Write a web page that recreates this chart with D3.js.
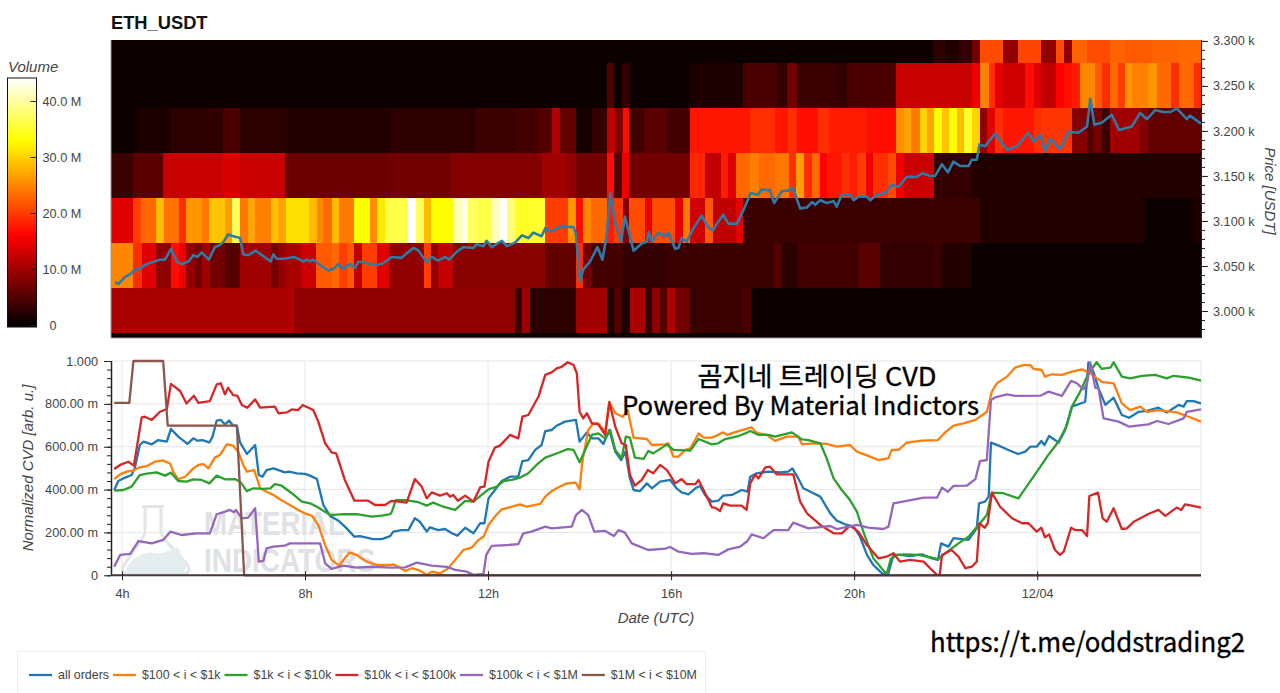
<!DOCTYPE html>
<html>
<head>
<meta charset="utf-8">
<script src="https://d3js.org/d3.v7.min.js"></script>
<style>
html, body { margin: 0; padding: 0; background: #fff; overflow: hidden; }
svg { display: block; font-family: "Liberation Sans", sans-serif; }
.axis text { fill: #444; font-size: 12.7px; }
.axis path, .axis line { stroke: #222; }
.axisLabel { fill: #444; font-size: 15px; font-style: italic; }
.grid line { stroke: #e6e6e6; stroke-width: 1px; }
.overlay { font-family: "Noto Sans CJK KR", sans-serif; fill: #000; stroke: #000; stroke-width: 0.35px; text-anchor: middle; }
</style>
</head>
<body>
<svg id="chart" width="1280" height="693"></svg>
<script>
// heatmap bands, each run is [end hour, volume in M]. hours past 24 are 12/04
var heatStart = 3.76;
var band3300 = [[21.07,.2],[21.73,.8],[22,2.5],[22.3,2],[22.57,3],[22.75,7],[23.25,21],[23.58,9],[24.09,20.5],[24.42,9],[24.58,21],[24.76,9],[25.09,22.5],[25.6,21],[25.92,22.5],[26.5,22],[27.05,22.5],[27.58,23]];
var band3250 = [[14.59,.2],[14.76,5],[14.92,.5],[15.1,3],[16.42,.2],[17.58,1.5],[18.31,4.5],[18.53,2.8],[18.75,7],[19.62,3.5],[19.84,2.8],[20.92,4.5],[22.57,12.5],[22.75,15],[22.94,24.5],[23.08,19],[23.25,14],[23.74,13],[23.92,17],[24.09,14],[24.42,12],[24.58,16],[24.76,17],[24.93,18],[25.27,25],[25.41,22],[25.6,19],[25.76,23],[25.92,20],[26.07,26],[26.42,24.5],[26.62,26],[26.93,23],[27.09,19],[27.42,23],[27.58,19]];
var band3200 = [[4.36,.5],[5.05,1.5],[5.92,2.5],[6.2,3],[6.58,4.5],[7.6,2.5],[9.86,2],[11.72,2.5],[12.59,3.5],[13.1,4],[13.39,5],[13.57,11],[13.92,6],[14.27,1],[14.59,3],[14.78,12],[14.94,8],[15.08,17],[15.4,4],[15.92,5.5],[16.42,4],[17.73,17.5],[18.27,19],[18.56,17.5],[18.75,19],[19.22,17],[19.44,19],[20.28,18],[20.92,17],[21.08,25.5],[21.24,27],[21.43,24],[21.59,30],[21.75,27],[21.92,33],[22.08,29],[22.24,33],[22.41,28.5],[22.57,35],[22.74,30],[22.91,9],[23.08,14],[23.25,19],[23.92,17.5],[24.09,19],[24.76,19.5],[25.09,8],[25.23,5],[25.41,7],[25.6,3.5],[26.25,10],[26.42,8],[27.58,6]];
var band3150 = [[4.25,3.5],[4.9,5.5],[6.2,12.5],[6.58,13.5],[7.56,12.5],[9.86,6.5],[11.2,7],[13.17,8],[13.72,10],[13.92,9],[14.59,7],[14.76,17],[14.92,5],[15.08,15],[16.42,7],[16.74,18.5],[17.09,12],[17.25,18],[17.41,14],[17.73,23],[17.91,24.5],[18.27,23],[18.58,24],[18.73,19],[18.91,26.5],[19.09,19],[19.26,23],[19.4,16],[19.73,17.5],[19.91,19],[20.06,18],[20.26,20],[20.42,15],[20.75,19],[20.92,21],[21.08,15],[21.75,12.5],[22.57,3],[27.58,2]];
var band3100 = [[4.25,14],[4.41,20],[4.74,23],[4.92,28.5],[5.25,23.5],[5.4,19],[5.74,26],[5.91,24],[6.25,29],[6.41,26.5],[6.58,37],[6.75,24],[6.91,27],[7.25,24.5],[7.42,28.5],[7.58,27],[8.09,31],[8.26,28.5],[8.4,25],[8.58,23],[8.75,28.5],[9.08,24],[9.42,33],[9.58,25.5],[9.75,31.5],[10.26,36],[10.42,44],[10.59,37],[10.75,28.5],[11.26,33],[11.42,41],[11.57,43],[11.75,37],[12.08,36],[12.23,41],[12.41,44],[12.59,38],[12.92,34.5],[13.25,35],[13.74,20],[13.92,26],[14.08,17],[14.25,25],[14.59,23],[14.76,18],[14.94,20],[15.08,8],[15.42,21],[15.58,15],[16.09,21],[16.25,14.5],[16.42,24],[16.74,13],[16.91,22],[17.42,12],[17.58,14.5],[22.75,3.5],[23.23,1.8],[26.36,2],[27.42,.8],[27.58,1.5]];
var band3050 = [[4.25,25],[4.43,19],[4.74,14],[5.07,9],[5.25,17],[5.4,15],[5.6,9],[5.74,7],[5.92,10],[6.25,7],[6.58,5],[7.25,10],[7.42,7],[7.58,9],[7.91,10.5],[8.09,13],[8.24,12.5],[8.58,22],[8.75,23],[8.91,20],[9.08,22],[9.25,12],[9.58,20],[9.86,14],[10.59,9],[10.75,20],[10.91,9],[11.24,12],[13.25,8.5],[13.92,6],[14.08,19],[14.25,7],[14.94,4],[15.87,3],[18.24,3.5],[18.42,5],[18.75,2.5],[20.1,4],[20.57,5.5],[21.75,3],[21.92,3.5],[22.57,1.8],[27.58,.3]];
var band3000 = [[7.6,10.5],[7.75,11],[12.59,9],[12.75,3.5],[12.92,10],[13.92,2.5],[14.59,10],[14.76,1.5],[14.92,5],[15.1,1.5],[15.42,10.5],[15.58,3],[15.76,9],[15.92,5],[16.09,11],[16.42,7],[17.58,3.5],[17.74,4.5],[27.58,.3]];
var band2950 = [[27.58,.3]];
var bandPrices = [3300, 3250, 3200, 3150, 3100, 3050, 3000, 2950];
var bandRuns = [band3300, band3250, band3200, band3150, band3100, band3050, band3000, band2950];

// price line, [hour, USDT]
var priceLine = [[3.85,3032],[3.92,3030],[4.07,3038],[4.18,3041],[4.28,3046],[4.39,3047],[4.5,3051],[4.65,3054],[4.83,3057],[4.94,3057],[5.07,3069],[5.2,3055],[5.3,3052],[5.45,3055],[5.56,3062],[5.65,3060],[5.74,3065],[5.9,3057],[6.03,3071],[6.13,3073],[6.22,3077],[6.32,3085],[6.43,3083],[6.58,3081],[6.65,3063],[6.76,3062],[6.92,3067],[7.09,3061],[7.25,3055],[7.31,3063],[7.38,3058],[7.56,3058],[7.75,3060],[7.85,3058],[7.96,3055],[8.04,3057],[8.11,3055],[8.18,3057],[8.36,3050],[8.51,3045],[8.62,3047],[8.73,3052],[8.84,3047],[8.98,3052],[9.09,3048],[9.17,3055],[9.35,3053],[9.57,3051],[9.71,3053],[9.89,3060],[10.11,3059],[10.22,3064],[10.37,3070],[10.48,3067],[10.66,3054],[10.77,3060],[10.91,3056],[11.06,3060],[11.15,3057],[11.32,3066],[11.46,3071],[11.68,3070],[11.75,3074],[11.9,3072],[11.97,3078],[12.08,3071],[12.3,3078],[12.41,3072],[12.59,3076],[12.74,3084],[12.88,3081],[12.99,3087],[13.17,3083],[13.25,3092],[13.36,3088],[13.5,3092],[13.65,3094],[13.87,3093],[13.92,3086],[14.01,3033],[14.08,3046],[14.23,3055],[14.39,3071],[14.5,3057],[14.59,3083],[14.67,3131],[14.78,3097],[14.91,3077],[14.99,3105],[15.18,3067],[15.36,3075],[15.47,3077],[15.51,3088],[15.58,3077],[15.72,3087],[15.87,3083],[15.94,3087],[16.09,3069],[16.16,3070],[16.23,3081],[16.34,3077],[16.49,3092],[16.67,3106],[16.78,3095],[16.91,3089],[17,3097],[17.14,3107],[17.25,3097],[17.44,3097],[17.58,3112],[17.74,3131],[17.89,3129],[17.98,3135],[18.16,3134],[18.25,3120],[18.42,3133],[18.57,3134],[18.66,3137],[18.82,3114],[18.97,3115],[19.08,3121],[19.15,3118],[19.26,3123],[19.4,3120],[19.55,3122],[19.62,3116],[19.73,3129],[19.91,3129],[19.99,3123],[20.1,3127],[20.28,3127],[20.35,3123],[20.5,3129],[20.68,3131],[20.82,3140],[20.97,3138],[21.15,3149],[21.37,3149],[21.49,3153],[21.66,3150],[21.77,3150],[21.92,3163],[22.05,3154],[22.17,3166],[22.32,3161],[22.5,3161],[22.57,3168],[22.68,3168],[22.74,3185],[22.86,3183],[23.08,3197],[23.34,3179],[23.56,3183],[23.81,3198],[23.92,3188],[24.07,3196],[24.17,3177],[24.28,3191],[24.5,3180],[24.68,3199],[24.9,3198],[25.09,3205],[25.16,3236],[25.25,3207],[25.41,3209],[25.63,3218],[25.79,3201],[26.07,3205],[26.25,3220],[26.4,3213],[26.58,3223],[26.76,3221],[26.91,3221],[27.05,3225],[27.27,3213],[27.34,3217],[27.58,3208]];

// normalized CVD lines, [hour, milli-units]
var cvdAll = [[3.83,398],[3.92,440],[4.07,456],[4.21,468],[4.28,499],[4.39,608],[4.47,624],[4.65,611],[4.79,631],[4.98,624],[5.07,683],[5.23,647],[5.43,613],[5.56,639],[5.65,628],[5.76,631],[5.91,620],[5.98,647],[6.07,722],[6.16,725],[6.25,704],[6.34,722],[6.43,698],[6.51,698],[6.58,620],[6.73,566],[6.91,608],[6.99,468],[7.07,460],[7.16,491],[7.31,499],[7.42,491],[7.56,480],[7.65,484],[7.82,476],[8,473],[8.11,465],[8.26,449],[8.4,328],[8.55,277],[8.73,255],[8.91,219],[9.08,180],[9.2,183],[9.49,169],[9.68,169],[9.86,183],[9.93,204],[10.11,211],[10.26,211],[10.4,266],[10.51,250],[10.66,204],[10.73,224],[10.91,211],[11.06,216],[11.21,196],[11.33,185],[11.5,222],[11.68,196],[11.83,243],[11.92,243],[12.01,359],[12.15,398],[12.3,440],[12.48,460],[12.66,460],[12.75,533],[12.88,538],[13.03,585],[13.17,608],[13.25,673],[13.39,678],[13.5,698],[13.68,717],[13.92,725],[14,624],[14.16,667],[14.27,639],[14.41,639],[14.52,613],[14.65,678],[14.78,577],[14.91,538],[15,577],[15.1,452],[15.18,398],[15.32,393],[15.47,429],[15.58,406],[15.76,437],[15.98,445],[16.12,406],[16.23,387],[16.38,378],[16.53,406],[16.63,417],[16.74,375],[16.89,344],[17.03,348],[17.14,372],[17.33,375],[17.54,398],[17.67,390],[17.73,460],[17.87,476],[18.13,484],[18.38,480],[18.56,484],[18.65,499],[18.78,452],[18.89,406],[19.11,383],[19.26,367],[19.48,289],[19.62,255],[19.8,238],[19.99,227],[20.13,180],[20.28,95],[20.42,48],[20.61,9],[20.74,5],[20.86,95],[21,95],[21.22,90],[21.48,98],[21.7,79],[21.83,72],[21.9,149],[22.06,134],[22.17,173],[22.35,169],[22.5,165],[22.68,219],[22.73,336],[22.86,344],[22.94,367],[22.99,619],[23.16,605],[23.37,585],[23.58,566],[23.74,577],[23.85,600],[23.99,600],[24.09,627],[24.16,608],[24.26,650],[24.47,620],[24.61,678],[24.76,787],[25.05,810],[25.12,994],[25.23,950],[25.34,872],[25.49,795],[25.67,829],[25.85,748],[26.01,735],[26.22,763],[26.4,767],[26.65,782],[26.83,760],[27.09,795],[27.2,787],[27.27,813],[27.42,813],[27.58,802]];
var cvd100 = [[3.83,449],[3.96,471],[4.1,484],[4.25,489],[4.36,502],[4.54,510],[4.72,530],[4.9,536],[5.05,522],[5.12,484],[5.23,448],[5.38,460],[5.56,499],[5.67,515],[5.78,519],[5.89,499],[6.03,549],[6.14,561],[6.29,611],[6.43,605],[6.54,577],[6.65,515],[6.73,484],[6.89,491],[7.02,406],[7.16,390],[7.31,375],[7.45,355],[7.67,328],[7.85,305],[8,289],[8.15,278],[8.29,235],[8.44,141],[8.58,72],[8.75,45],[8.84,72],[8.97,106],[9.13,95],[9.35,64],[9.57,48],[9.86,48],[9.93,51],[10.04,40],[10.19,20],[10.33,33],[10.51,22],[10.66,2],[10.77,17],[10.95,9],[11.13,33],[11.31,79],[11.46,118],[11.64,129],[11.79,165],[11.9,180],[12.01,235],[12.15,274],[12.3,308],[12.52,320],[12.7,331],[12.85,320],[13.14,333],[13.25,367],[13.39,393],[13.54,411],[13.72,429],[13.92,432],[14,401],[14.06,530],[14.19,678],[14.3,709],[14.41,709],[14.56,670],[14.65,810],[14.78,756],[14.94,740],[15.05,771],[15.18,642],[15.47,636],[15.58,608],[15.87,611],[15.94,616],[16.05,554],[16.16,554],[16.31,585],[16.42,592],[16.6,662],[16.71,642],[16.89,642],[17.14,667],[17.22,655],[17.47,673],[17.76,690],[17.87,665],[18.09,655],[18.27,627],[18.53,647],[18.78,647],[18.86,611],[19.11,616],[19.4,613],[19.62,600],[19.91,608],[20.06,577],[20.31,557],[20.53,538],[20.75,546],[20.82,585],[20.97,585],[21.15,619],[21.48,628],[21.83,631],[21.99,667],[22.17,698],[22.39,709],[22.65,725],[22.9,763],[23.01,857],[23.12,896],[23.34,927],[23.52,970],[23.7,981],[23.85,981],[23.92,963],[24.1,958],[24.17,927],[24.32,938],[24.54,935],[24.76,950],[24.98,961],[25.16,942],[25.41,903],[25.67,896],[25.85,802],[26.03,771],[26.25,787],[26.4,763],[26.65,771],[27.05,760],[27.31,740],[27.58,717]];
var cvd1k = [[3.83,395],[4.03,398],[4.21,414],[4.39,468],[4.54,474],[4.76,480],[4.94,465],[5.07,479],[5.23,440],[5.41,437],[5.56,448],[5.74,445],[5.91,429],[6.07,465],[6.25,448],[6.47,449],[6.58,437],[6.73,393],[6.87,406],[7.09,403],[7.24,406],[7.34,425],[7.49,418],[7.71,383],[7.93,344],[8.11,336],[8.29,316],[8.55,281],[8.84,285],[9.13,285],[9.46,274],[9.68,278],[9.86,285],[9.9,297],[9.98,351],[10.19,351],[10.48,341],[10.66,325],[10.8,339],[11.02,320],[11.28,305],[11.5,347],[11.68,344],[11.86,375],[12.01,401],[12.19,414],[12.34,440],[12.52,445],[12.7,456],[12.88,476],[13.06,515],[13.25,549],[13.54,572],[13.74,589],[13.87,585],[14,527],[14.12,585],[14.27,655],[14.41,662],[14.56,639],[14.67,678],[14.78,585],[14.92,546],[15.01,647],[15.1,642],[15.21,549],[15.4,543],[15.5,580],[15.61,569],[15.87,605],[15.91,611],[16.05,585],[16.42,582],[16.6,636],[16.89,611],[17.03,616],[17.18,636],[17.47,650],[17.62,662],[17.73,673],[17.91,655],[18.13,655],[18.27,647],[18.64,667],[18.86,634],[19,631],[19.26,616],[19.4,546],[19.55,452],[19.73,398],[19.91,351],[20.06,297],[20.2,204],[20.42,79],[20.71,5],[20.8,76],[20.93,95],[21.12,98],[21.41,95],[21.59,87],[21.84,76],[22.06,114],[22.28,149],[22.5,180],[22.72,235],[22.9,281],[23.01,386],[23.26,383],[23.59,359],[24.07,507],[24.25,564],[24.47,624],[24.65,701],[24.76,787],[24.94,857],[25.12,942],[25.3,994],[25.41,963],[25.6,969],[25.67,994],[25.85,927],[26.03,919],[26.29,931],[26.58,935],[26.83,919],[26.98,931],[27.31,922],[27.58,908]];
var cvd10k = [[3.83,496],[3.96,515],[4.14,530],[4.26,512],[4.43,737],[4.5,740],[4.65,725],[4.83,763],[4.98,776],[5.07,893],[5.27,860],[5.41,802],[5.57,838],[5.67,805],[5.92,813],[6.07,891],[6.16,896],[6.25,844],[6.32,875],[6.43,841],[6.52,838],[6.62,795],[6.74,782],[6.91,821],[7.02,782],[7.34,787],[7.42,756],[7.6,760],[7.71,774],[7.85,771],[7.95,795],[8.18,771],[8.29,717],[8.44,616],[8.58,574],[8.68,569],[8.87,445],[9.08,348],[9.38,348],[9.53,328],[9.75,328],[9.86,344],[9.9,347],[10.22,339],[10.4,449],[10.55,414],[10.66,359],[10.77,387],[10.95,372],[11.1,383],[11.17,367],[11.24,375],[11.34,348],[11.5,372],[11.68,344],[11.83,411],[11.92,414],[12.01,530],[12.15,596],[12.26,605],[12.48,655],[12.66,639],[12.75,740],[12.88,748],[13.1,833],[13.25,935],[13.39,947],[13.5,966],[13.61,973],[13.74,994],[13.87,981],[13.94,942],[14,763],[14.08,732],[14.16,756],[14.27,709],[14.41,704],[14.56,655],[14.65,807],[14.78,694],[14.92,616],[15.01,608],[15.1,468],[15.21,418],[15.36,445],[15.49,491],[15.61,476],[15.76,515],[15.91,491],[16.09,429],[16.23,449],[16.34,425],[16.53,425],[16.6,445],[16.71,398],[16.89,317],[16.96,316],[17.07,300],[17.14,336],[17.29,325],[17.54,325],[17.65,305],[17.73,429],[17.84,471],[17.91,452],[18.06,504],[18.16,507],[18.31,471],[18.67,471],[18.82,344],[18.97,289],[19.26,235],[19.55,196],[19.73,196],[19.91,232],[20.09,204],[20.28,141],[20.53,79],[20.71,87],[20.86,103],[21,64],[21.22,72],[21.52,64],[21.66,33],[21.81,2],[21.87,2],[21.92,95],[22.13,118],[22.28,87],[22.43,33],[22.57,40],[22.68,64],[22.74,243],[22.85,222],[22.92,243],[23.01,386],[23.19,320],[23.45,266],[23.67,243],[23.81,243],[23.99,204],[24.09,222],[24.17,177],[24.26,191],[24.39,118],[24.5,95],[24.58,110],[24.74,222],[24.83,211],[24.98,211],[25.09,183],[25.14,370],[25.33,386],[25.43,266],[25.52,250],[25.67,313],[25.85,216],[25.96,219],[26.11,250],[26.43,286],[26.65,305],[26.8,277],[27.05,316],[27.15,305],[27.23,331],[27.38,325],[27.58,316]];
var cvd100k = [[3.83,40],[3.96,95],[4.18,100],[4.36,160],[4.65,149],[4.9,165],[5.06,204],[5.3,188],[5.63,196],[5.92,196],[6.07,285],[6.25,297],[6.36,305],[6.45,294],[6.49,305],[6.62,266],[6.76,269],[6.91,313],[6.99,64],[7.09,67],[7.16,126],[7.31,134],[7.56,138],[7.67,149],[8.33,149],[8.44,56],[8.58,30],[8.84,45],[9.13,36],[9.49,40],[9.86,36],[10.19,37],[10.44,59],[10.77,45],[11.1,39],[11.28,25],[11.53,17],[11.68,2],[11.9,6],[11.96,95],[12.08,137],[12.41,141],[12.66,145],[12.77,196],[12.95,204],[13.25,227],[13.39,219],[13.83,227],[13.92,281],[14.05,305],[14.19,281],[14.32,204],[14.56,207],[14.75,183],[14.85,211],[14.99,199],[15.14,149],[15.5,118],[15.87,124],[15.98,132],[16.16,110],[16.45,100],[16.71,103],[17.03,95],[17.25,121],[17.51,134],[17.67,160],[17.76,191],[18.02,173],[18.24,211],[18.56,211],[18.67,246],[19,219],[19.48,230],[19.62,216],[20.06,235],[20.31,222],[20.64,216],[20.75,227],[20.86,336],[21.15,347],[21.52,362],[21.81,362],[21.92,409],[22.05,390],[22.17,417],[22.46,418],[22.65,449],[22.75,533],[22.9,538],[22.99,818],[23.08,830],[23.34,844],[23.52,837],[24.07,838],[24.25,857],[24.54,837],[24.74,907],[24.87,896],[25.01,868],[25.09,896],[25.16,994],[25.27,875],[25.34,872],[25.45,732],[25.78,717],[26,694],[26.43,704],[26.62,720],[26.87,706],[27.2,732],[27.27,763],[27.58,774]];
var cvd1M = [[3.83,805],[4.16,805],[4.25,1000],[4.9,1000],[5,698],[6.51,698],[6.67,0],[27.58,0]];

var cvdSeries = [cvdAll, cvd100, cvd1k, cvd10k, cvd100k, cvd1M];
var cvdLabels = ["all orders", "$100 < i < $1k", "$1k < i < $10k", "$10k < i < $100k", "$100k < i < $1M", "$1M < i < $10M"];
var cvdColors = ["#1f77b4", "#ff7f0e", "#2ca02c", "#d62728", "#9467bd", "#8c564b"];

var hourTicks = [4, 8, 12, 16, 20, 24];
var priceTicks = [3000, 3050, 3100, 3150, 3200, 3250, 3300];
var volumeTicks = [0, 10, 20, 30, 40];
var cvdTicks = [0, 200, 400, 600, 800, 1000];

var svg = d3.select("#chart");

var x = d3.scaleLinear().domain([heatStart, 27.58]).range([111, 1201]);
var yPrice = d3.scaleLinear().domain([2970, 3301]).range([338, 40]);
var yCvd = d3.scaleLinear().domain([0, 1000]).range([575.3, 361]);
var yVol = d3.scaleLinear().domain([-0.35, 44.1]).range([327, 78]);
var volColor = d3.scaleLinear().domain([0, 16, 33, 44]).range(["#040000", "#ff0000", "#ffff00", "#ffffff"]).clamp(true);

svg.append("text")
    .attr("x", 111).attr("y", 29)
    .style("font-size", "18.3px").style("font-weight", "bold").style("fill", "#111")
    .text("ETH_USDT");

drawHeatmap();
drawColorbar();
drawCvd();
drawLegend();

// text that was pasted over the picture
svg.append("text").attr("class", "overlay").attr("x", 817).attr("y", 386)
    .attr("textLength", 239).attr("lengthAdjust", "spacingAndGlyphs")
    .style("font-size", "26px").text("곰지네 트레이딩 CVD");
svg.append("text").attr("class", "overlay").attr("x", 800.5).attr("y", 415)
    .attr("textLength", 357).attr("lengthAdjust", "spacingAndGlyphs")
    .style("font-size", "26px").text("Powered By Material Indictors");
svg.append("text").attr("class", "overlay").attr("x", 1087.5).attr("y", 652)
    .attr("textLength", 315).attr("lengthAdjust", "spacingAndGlyphs")
    .style("font-size", "27px").text("https://t.me/oddstrading2");

function drawHeatmap(){
    var defs = svg.append("defs");
    defs.append("clipPath").attr("id", "heat-clip").append("rect")
        .attr("x", x.range()[0]).attr("y", yPrice.range()[1])
        .attr("width", x.range()[1] - x.range()[0])
        .attr("height", yPrice.range()[0] - yPrice.range()[1]);
    // the stripes run soft into each other in the original
    defs.append("filter").attr("id", "heat-soft")
        .append("feGaussianBlur").attr("stdDeviation", 0.7);

    var heat = svg.append("g").attr("clip-path", "url(#heat-clip)");
    var cells = heat.append("g").attr("filter", "url(#heat-soft)");

    bandPrices.forEach(function(price, b){
        var from = heatStart;
        bandRuns[b].forEach(function(run, r){
            cells.append("rect")
                .attr("x", x(from) - (r === 0 ? 3 : 0))
                .attr("y", yPrice(price + 25))
                .attr("width", x(run[0]) - x(from) + (r === 0 ? 3 : 0) + 0.6)
                .attr("height", yPrice(price - 25) - yPrice(price + 25) + 0.6)
                .attr("fill", volColor(run[1]))
                .attr("shape-rendering", "crispEdges");
            from = run[0];
        });
    });

    heat.append("path")
        .datum(priceLine)
        .attr("d", d3.line().x(d => x(d[0])).y(d => yPrice(d[1])))
        .style("fill", "none")
        .style("stroke", "#2f7aa6")
        .style("stroke-width", "2.6px")
        .style("stroke-linejoin", "round");

    // thin grey frame on the left and bottom
    svg.append("path")
        .attr("d", "M" + x.range()[0] + "," + yPrice.range()[1] + "V" + yPrice.range()[0] + "H" + x.range()[1])
        .style("fill", "none").style("stroke", "#999").style("stroke-width", "1px");

    var priceAxis = svg.append("g").attr("class", "axis")
        .attr("transform", "translate(1201,0)")
        .call(d3.axisRight(yPrice).tickValues(priceTicks).tickSize(7).tickPadding(5)
            .tickFormat(d => (d / 1000).toFixed(3) + " k"));
    svg.append("g").attr("class", "axis")
        .attr("transform", "translate(1201,0)")
        .call(d3.axisRight(yPrice).tickValues(d3.range(2980, 3301, 10)).tickSize(4).tickFormat(""))
        .select(".domain").remove();
    priceAxis.select(".domain").attr("d", "M0.5,40V338");

    svg.append("text").attr("class", "axisLabel")
        .attr("transform", "translate(1265,191) rotate(90)")
        .attr("text-anchor", "middle")
        .text("Price [USDT]");
}

function drawColorbar(){
    var grad = svg.append("defs").append("linearGradient")
        .attr("id", "vol-grad").attr("x1", 0).attr("x2", 0).attr("y1", 1).attr("y2", 0);
    d3.range(0, 45, 1).forEach(function(v){
        grad.append("stop")
            .attr("offset", (yVol.range()[0] - yVol(v)) / (yVol.range()[0] - yVol.range()[1]))
            .attr("stop-color", volColor(v));
    });

    svg.append("rect")
        .attr("x", 7.5).attr("y", yVol.range()[1])
        .attr("width", 29).attr("height", yVol.range()[0] - yVol.range()[1])
        .attr("fill", "url(#vol-grad)")
        .attr("stroke", "#111").attr("stroke-width", 1);

    var axis = svg.append("g").attr("class", "axis")
        .attr("transform", "translate(36.5,0)")
        .call(d3.axisLeft(yVol).tickValues(volumeTicks).tickSize(6)
            .tickFormat(d => d === 0 ? "0" : d.toFixed(1) + " M"));
    axis.select(".domain").remove();
    axis.selectAll("text")
        .attr("text-anchor", "start")
        .attr("x", d => d === 0 ? 13 : 6);

    svg.append("text").attr("class", "axisLabel")
        .attr("x", 8).attr("y", 72)
        .text("Volume");
}

function drawCvd(){
    // faint watermark under the lines
    var mark = svg.append("g").attr("transform", "translate(120,505)");
    mark.append("path")
        .attr("d", "M22,1.5 H44 M25,1.5 V27 C25,34 5,56 3,62 C1,68 6,69.5 10,69.5 H60 C66,69.5 71,67 68,61 C64,54 41,34 41,27 V1.5")
        .style("fill", "none").style("stroke", "#e3e6e8").style("stroke-width", "3px");
    mark.append("path")
        .attr("d", "M6,64 C12,52 26,46 34,48 C44,50 52,44 58,42 L66,62 C66,67 62,68 58,68 H10 C6,68 5,66 6,64 Z")
        .style("fill", "#e4edef");
    svg.append("text").attr("x", 204).attr("y", 535)
        .attr("textLength", 141).attr("lengthAdjust", "spacingAndGlyphs")
        .style("font-size", "33px").style("font-weight", "bold").style("fill", "#dfe1e4")
        .text("MATERIAL");
    svg.append("text").attr("x", 204).attr("y", 572)
        .attr("textLength", 171).attr("lengthAdjust", "spacingAndGlyphs")
        .style("font-size", "33px").style("font-weight", "bold").style("fill", "#dfe1e4")
        .text("INDICATORS");

    var grid = svg.append("g").attr("class", "grid");
    grid.selectAll(".h").data(cvdTicks.slice(1)).enter().append("line")
        .attr("x1", 111).attr("x2", 1201)
        .attr("y1", d => yCvd(d)).attr("y2", d => yCvd(d));
    grid.selectAll(".v").data(hourTicks).enter().append("line")
        .attr("y1", yCvd(1000)).attr("y2", yCvd(0))
        .attr("x1", d => x(d)).attr("x2", d => x(d));
    grid.append("line").attr("x1", 1201).attr("x2", 1201).attr("y1", yCvd(1000)).attr("y2", yCvd(0));

    cvdSeries.forEach(function(series, i){
        svg.append("path")
            .datum(series)
            .attr("d", d3.line().x(d => x(d[0])).y(d => yCvd(d[1])))
            .style("fill", "none")
            .style("stroke", cvdColors[i])
            .style("stroke-width", "2.3px")
            .style("stroke-linejoin", "round");
    });

    var leftAxis = svg.append("g").attr("class", "axis")
        .attr("transform", "translate(111,0)")
        .call(d3.axisLeft(yCvd).tickValues(cvdTicks).tickSize(7).tickPadding(6)
            .tickFormat(d => d === 0 ? "0" : d === 1000 ? "1.000" : d.toFixed(2) + " m"));
    leftAxis.select(".domain").attr("d", "M0.5,361V575.3").style("stroke-width", "1.5px");
    svg.append("g").attr("class", "axis")
        .attr("transform", "translate(111,0)")
        .call(d3.axisLeft(yCvd).tickValues(d3.range(0, 1000, 40)).tickSize(4).tickFormat(""))
        .select(".domain").remove();

    var bottom = svg.append("g").attr("class", "axis")
        .attr("transform", "translate(0,575.3)")
        .call(d3.axisBottom(x).tickValues(hourTicks).tickSize(5).tickPadding(9)
            .tickFormat(d => d === 24 ? "12/04" : d + "h"));
    bottom.select(".domain").attr("d", "M111,0H1201").style("stroke", "#443a38").style("stroke-width", "2px");
    bottom.selectAll(".tick line").attr("y1", -4);

    svg.append("text").attr("class", "axisLabel")
        .attr("x", 656).attr("y", 623).attr("text-anchor", "middle")
        .text("Date (UTC)");
    svg.append("text").attr("class", "axisLabel")
        .attr("transform", "translate(33,468) rotate(-90)")
        .attr("text-anchor", "middle")
        .text("Normalized CVD [arb. u.]");
}

function drawLegend(){
    svg.append("rect")
        .attr("x", 17.5).attr("y", 651.5).attr("width", 688).attr("height", 60)
        .attr("fill", "#fff").attr("stroke", "#eeeeee");

    var pos = 29;
    cvdLabels.forEach(function(label, i){
        svg.append("line")
            .attr("x1", pos).attr("x2", pos + 23).attr("y1", 675).attr("y2", 675)
            .style("stroke", cvdColors[i]).style("stroke-width", "2.3px");
        var t = svg.append("text")
            .attr("x", pos + 29).attr("y", 679)
            .style("font-size", "12.4px").style("fill", "#444")
            .text(label);
        pos += 29 + t.node().getComputedTextLength() + 4;
    });
}
</script>
</body>
</html>
